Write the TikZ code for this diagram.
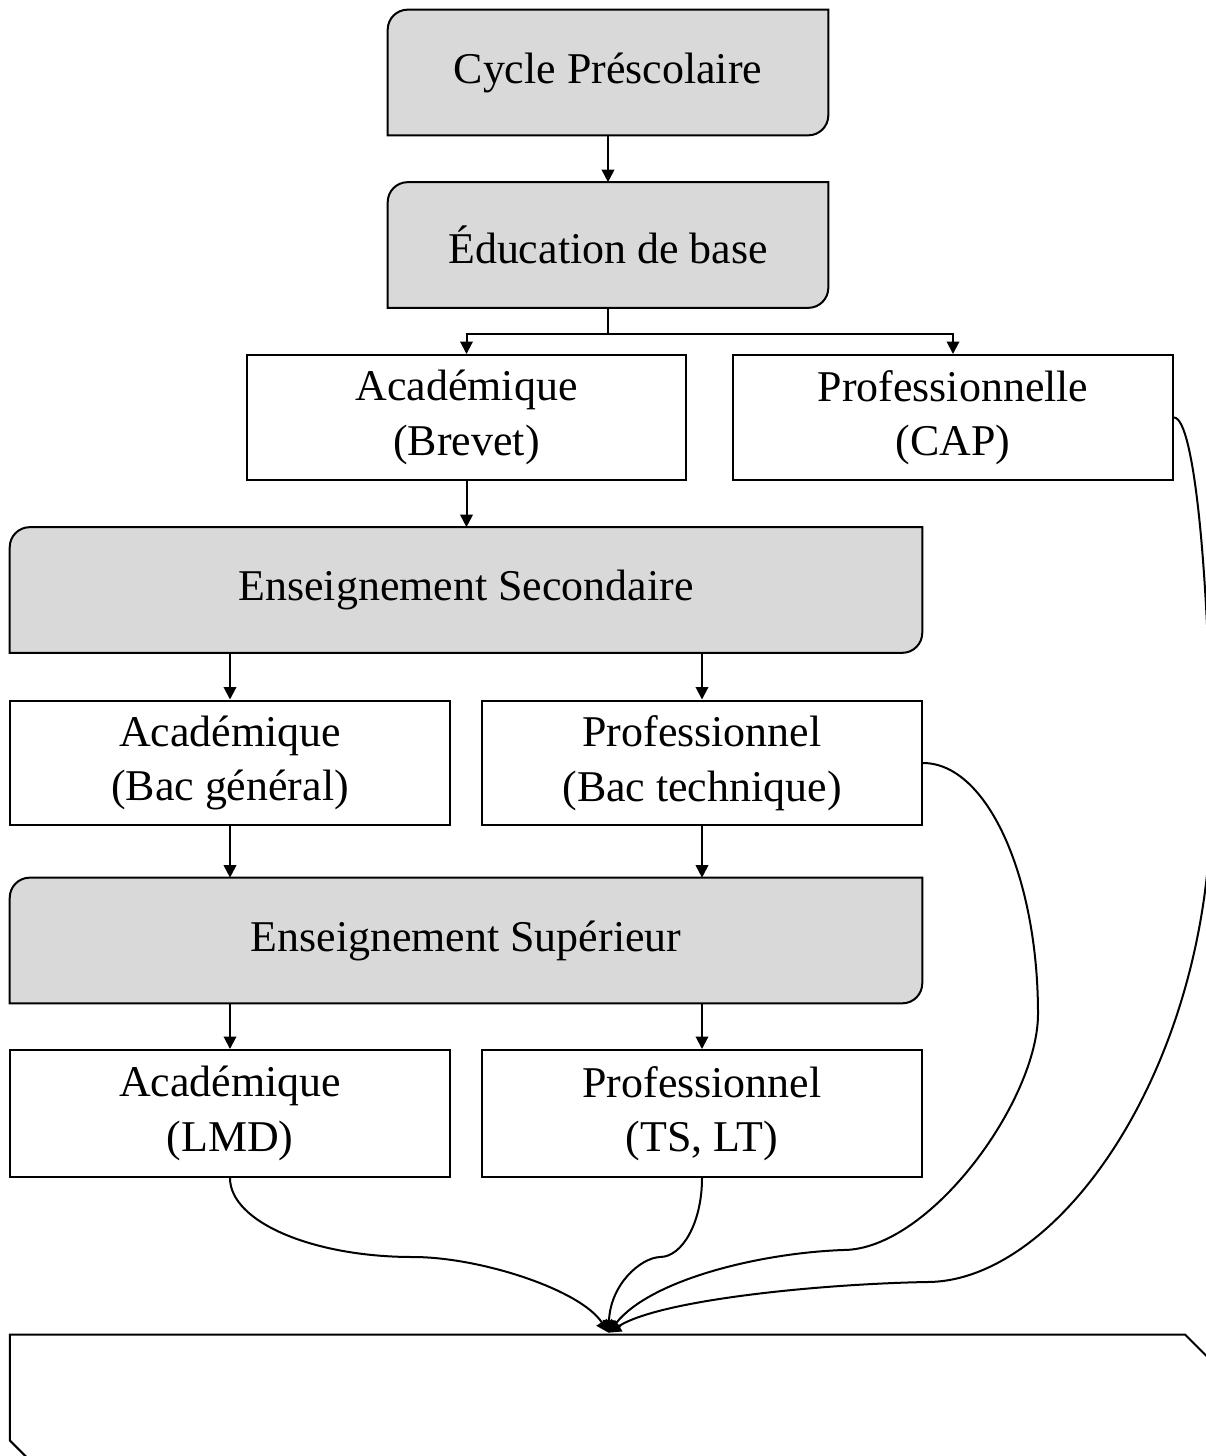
\documentclass[tikz,border=0pt]{standalone}
\usepackage{fontspec}
\setmainfont{Liberation Serif}
\usetikzlibrary{arrows.meta,backgrounds,calc}
\definecolor{StageGrey}{RGB}{217,217,217}
\newcommand{\drawstage}[1]{%
  \draw[stageframe] ([yshift=-0.4cm]#1.north west) arc[start angle=180,end angle=90,radius=0.4cm]
    -- (#1.north east) -- ([yshift=0.4cm]#1.south east) arc[start angle=0,end angle=-90,radius=0.4cm]
    -- (#1.south west) -- cycle;}
\tikzset{
  >={Triangle[length=0.25cm,width=0.25cm]},
  stage/.style={inner sep=0pt,align=center,font=\fontsize{25}{31}\selectfont,minimum width=8.8cm,minimum height=2.5cm},
  widestage/.style={stage,minimum width=18.24cm},
  track/.style={stage,draw=black,line width=0.04cm,fill=white},
  stageframe/.style={draw=black,line width=0.04cm,fill=StageGrey},
  boxline/.style={draw=black,line width=0.04cm},
  link/.style={->,line width=0.04cm}
}
\begin{document}
\begin{tikzpicture}[x=0.02cm,y=-0.02cm]
  \useasboundingbox (0,0) rectangle (1206,1456);
  \clip (0,0) rectangle (1206,1456);
  % stages and tracks
  \node[stage] (pre) at (608,72.5) {Cycle Préscolaire};
  \node[stage] (base) at (608,245) {Éducation de base};
  \node[track] (brevet) at (466.5,417.5) {Académique\\(Brevet)};
  \node[track] (cap) at (953,417.5) {Professionnelle\\(CAP)};
  \node[widestage] (second) at (466,590) {Enseignement Secondaire};
  \node[track] (bacgen) at (230,763) {Académique\\(Bac général)};
  \node[track] (bactech) at (702,763) {Professionnel\\(Bac technique)};
  \node[widestage] (sup) at (466,940.5) {Enseignement Supérieur};
  \node[track,minimum height=2.54cm] (lmd) at (230,1113.5) {Académique\\(LMD)};
  \node[track,minimum height=2.54cm] (tslt) at (702,1113.5) {Professionnel\\(TS, LT)};
  \node[minimum width=24.1cm,minimum height=2.7cm,inner sep=0pt] (fin) at (612.5,1402.5) {};
  \draw[boxline] (fin.north west) -- ([xshift=-0.6cm]fin.north east) -- ([yshift=-0.6cm]fin.north east)
    -- (fin.south east) -- ([xshift=0.6cm]fin.south west) -- ([yshift=0.6cm]fin.south west) -- cycle;
  \begin{scope}[on background layer]
    \foreach \n in {pre,base,second,sup} {\drawstage{\n}}
  \end{scope}
  % straight links
  \coordinate (fork) at ($(base.south)+(0,26)$);
  \draw[link] (pre.south) -- (base.north);
  \draw[link] (base.south) -- (fork) -| (brevet.north);
  \draw[link] (fork) -| (cap.north);
  \draw[link] (brevet.south) -- (brevet.south |- second.north);
  \draw[link] (second.south -| bacgen.north) -- (bacgen.north);
  \draw[link] (second.south -| bactech.north) -- (bactech.north);
  \draw[link] (bacgen.south) -- (bacgen.south |- sup.north);
  \draw[link] (bactech.south) -- (bactech.south |- sup.north);
  \draw[link] (sup.south -| lmd.north) -- (lmd.north);
  \draw[link] (sup.south -| tslt.north) -- (tslt.north);
  % curved links into the last box
  \coordinate (meet) at ($(fin.north)+(-4,-2)$);
  \coordinate (lmdbend) at (413,1257);
  \coordinate (tsbend) at (660,1257);
  \coordinate (techpeak) at (1038,1014);
  \coordinate (techbend) at (843,1250);
  \coordinate (cappeak) at (1211,800);
  \coordinate (capbend) at (927,1282);
  \draw[link] (lmd.south) .. controls +(0,44) and +(-100,0) .. (lmdbend)
    .. controls +(67,0) and +(-28,-43) .. (meet);
  \draw[link] (tslt.south) .. controls +(0,45) and +(22,0) .. (tsbend)
    .. controls +(-20,1) and +(2,-48) .. (meet);
  \draw[link] (bactech.east) .. controls +(64,0) and +(0,-138) .. (techpeak)
    .. controls +(0,86) and +(87,0) .. (techbend)
    .. controls +(-83,3) and +(42,-53) .. (meet);
  \draw[link] (cap.east) .. controls +(21,0) and +(0,-211) .. (cappeak)
    .. controls +(0,265) and +(133,0) .. (capbend)
    .. controls +(-107,2) and +(52,-33) .. (meet);
\end{tikzpicture}
\end{document}
